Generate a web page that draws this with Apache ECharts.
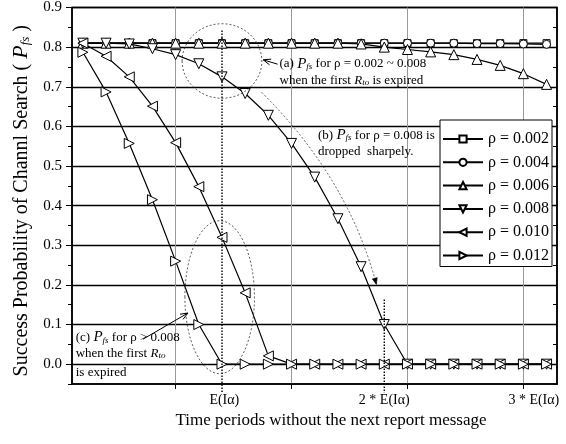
<!DOCTYPE html>
<html>
<head>
<meta charset="utf-8">
<script src="https://cdn.jsdelivr.net/npm/echarts@6/dist/echarts.min.js"></script>
<style>
  html, body { margin: 0; padding: 0; background: #fff; }
  #chart { width: 566px; height: 444px; }
</style>
</head>
<body>
<div id="chart"></div>
<script>
// Time steps (index of period) and success probability per arrival rate
const steps = [0, 1, 2, 3, 4, 5, 6, 7, 8, 9, 10, 11, 12, 13, 14, 15, 16, 17, 18, 19, 20];
const rho002 = [0.81, 0.81, 0.81, 0.81, 0.81, 0.81, 0.81, 0.81, 0.81, 0.81, 0.81, 0.81, 0.81, 0.81, 0.81, 0.81, 0.81, 0.81, 0.81, 0.81, 0.81];
const rho004 = [0.81, 0.81, 0.81, 0.81, 0.81, 0.81, 0.81, 0.81, 0.81, 0.81, 0.81, 0.81, 0.81, 0.81, 0.81, 0.81, 0.81, 0.809, 0.809, 0.808, 0.807];
const rho006 = [0.81, 0.81, 0.81, 0.81, 0.81, 0.81, 0.81, 0.81, 0.81, 0.81, 0.81, 0.81, 0.808, 0.80, 0.794, 0.788, 0.781, 0.769, 0.754, 0.733, 0.706];
const rho008 = [0.81, 0.81, 0.808, 0.796, 0.781, 0.758, 0.725, 0.683, 0.628, 0.557, 0.472, 0.367, 0.246, 0.10, 0, 0, 0, 0, 0, 0, 0];
const rho010 = [0.81, 0.777, 0.725, 0.651, 0.559, 0.448, 0.32, 0.18, 0.021, 0, 0, 0, 0, 0, 0, 0, 0, 0, 0, 0, 0];
const rho012 = [0.787, 0.687, 0.557, 0.415, 0.26, 0.10, 0, 0, 0, 0, 0, 0, 0, 0, 0, 0, 0, 0, 0, 0, 0];

const seriesNames = ['ρ = 0.002', 'ρ = 0.004', 'ρ = 0.006', 'ρ = 0.008', 'ρ = 0.010', 'ρ = 0.012'];

// Axis ticks and labels
const yTickValues = [0, 0.1, 0.2, 0.3, 0.4, 0.5, 0.6, 0.7, 0.8, 0.9];
const yMinorValues = [-0.05, 0.05, 0.15, 0.25, 0.35, 0.45, 0.55, 0.65, 0.75, 0.85];
const xTickValues = [4, 9, 14, 19];
const xLabelValues = [6.1, 13, 19.45];
const xLabelTexts = ['E(Iα)', '2 * E(Iα)', '3 * E(Iα)'];

const FONT = 'Liberation Serif';

function lineSeries(name, values, symbol, rotate, size) {
  return {
    name: name,
    type: 'line',
    data: steps.map((k, i) => [k, values[i]]),
    symbol: symbol,
    symbolRotate: rotate,
    symbolSize: size,
    showSymbol: true,
    lineStyle: { color: '#000', width: 1.2 },
    itemStyle: { color: '#fff', borderColor: '#000', borderWidth: 1 },
    emphasis: { disabled: true },
    z: 3
  };
}

// Annotation layer: dotted markers, ellipses, arrows and notes, placed in data space
function renderNotes(params, api) {
  const pt = (x, y) => api.coord([x, y]);
  const ext = (dx, dy) => api.size([dx, dy]);
  const dotted = { stroke: '#000', lineWidth: 1.4, lineDash: [1.5, 1.5], fill: 'none' };
  const fine = { stroke: '#333', lineWidth: 0.8, lineDash: [2, 2], fill: 'none' };
  const solid = { stroke: '#000', lineWidth: 1, fill: 'none' };
  const children = [];

  // vertical dotted markers at E(Iα) and 2*E(Iα)
  [[6, 0.842, -0.07], [13, 0.163, -0.072]].forEach(function (d) {
    const a = pt(d[0], d[1]), b = pt(d[0], d[2]);
    children.push({ type: 'line', shape: { x1: a[0], y1: a[1], x2: b[0], y2: b[1] }, style: dotted });
  });

  // dotted ellipses
  [[6, 0.765, 1.72, 0.094], [5.9, 0.169, 1.5, 0.193]].forEach(function (d) {
    const c = pt(d[0], d[1]), r = ext(d[2], d[3]);
    children.push({ type: 'ellipse', shape: { cx: c[0], cy: c[1], rx: r[0], ry: r[1] }, style: fine });
  });

  function head(tip, from, len, filled) {
    const ang = Math.atan2(tip[1] - from[1], tip[0] - from[0]);
    const spread = 0.38;
    const p1 = [tip[0] - len * Math.cos(ang - spread), tip[1] - len * Math.sin(ang - spread)];
    const p2 = [tip[0] - len * Math.cos(ang + spread), tip[1] - len * Math.sin(ang + spread)];
    if (filled) {
      return { type: 'polygon', shape: { points: [tip, p1, p2] }, style: { fill: '#000', stroke: '#000', lineWidth: 0.5 } };
    }
    return { type: 'polyline', shape: { points: [p1, tip, p2] }, style: solid };
  }

  function openArrow(from, to) {
    const a = pt(from[0], from[1]), b = pt(to[0], to[1]);
    children.push({ type: 'line', shape: { x1: a[0], y1: a[1], x2: b[0], y2: b[1] }, style: solid });
    children.push(head(b, a, 8, false));
  }
  openArrow([8.4, 0.757], [7.78, 0.768]);
  openArrow([2.59, 0.063], [4.53, 0.129]);

  // curved dotted arrow for the sharp drop of ρ = 0.008
  const c0 = pt(7.71, 0.686), c1 = pt(11.46, 0.468), c2 = pt(12.66, 0.201);
  children.push({ type: 'bezierCurve', shape: { x1: c0[0], y1: c0[1], cpx1: c1[0], cpy1: c1[1], x2: c2[0], y2: c2[1] }, style: fine });
  children.push(head(c2, c1, 7, true));

  const rich = {
    p: { fontFamily: FONT, fontStyle: 'italic', fontSize: 15, fill: '#000' },
    r: { fontFamily: FONT, fontStyle: 'italic', fontSize: 13, fill: '#000' },
    s: { fontFamily: FONT, fontStyle: 'italic', fontSize: 9, fill: '#000', verticalAlign: 'bottom' }
  };
  function note(x, y, text) {
    const p = pt(x, y);
    children.push({
      type: 'text', x: p[0], y: p[1],
      style: { text: text, fontFamily: FONT, fontSize: 13, fill: '#000', align: 'left', verticalAlign: 'middle', rich: rich }
    });
  }
  note(8.48, 0.758, '(a) {p|P}{s|fs} for ρ = 0.002 ~ 0.008');
  note(8.48, 0.716, 'when the first {r|R}{s|to} is expired');
  note(10.14, 0.578, '(b) {p|P}{s|fs} for ρ = 0.008 is');
  note(10.14, 0.536, 'dropped  sharpely.');
  note(-0.31, 0.0676, '(c) {p|P}{s|fs} for ρ > 0.008');
  note(-0.31, 0.0256, 'when the first {r|R}{s|to}');
  note(-0.31, -0.02, 'is expired');

  return { type: 'group', children: children };
}

const chart = echarts.init(document.getElementById('chart'), null, { renderer: 'canvas' });

chart.setOption({
  animation: false,
  backgroundColor: '#fff',
  textStyle: { fontFamily: FONT, color: '#000' },
  grid: {
    left: 72, right: 9, top: 6, bottom: 60,
    show: true, borderColor: '#000', borderWidth: 1.5, backgroundColor: 'transparent'
  },
  legend: {
    data: seriesNames,
    orient: 'vertical',
    left: 440, top: 120,
    itemWidth: 40, itemHeight: 9, itemGap: 7.3,
    padding: [11, 3, 3, 2],
    backgroundColor: '#fff', borderColor: '#000', borderWidth: 1,
    selectedMode: false,
    textStyle: { fontFamily: FONT, fontSize: 16, color: '#000', lineHeight: 14 }
  },
  xAxis: {
    type: 'value', min: -0.47, max: 20.45,
    name: 'Time periods without the next report message',
    nameLocation: 'middle', nameGap: 24,
    nameTextStyle: { fontFamily: FONT, fontSize: 17, color: '#000', padding: [0, 0, 0, 33] },
    axisLine: { show: true, onZero: false, lineStyle: { color: '#000', width: 1.5 } },
    axisTick: { show: true, customValues: xTickValues, length: 5, lineStyle: { color: '#000', width: 1 } },
    axisLabel: {
      customValues: xLabelValues, fontFamily: FONT, fontSize: 14, color: '#000', margin: 9,
      formatter: function (v) {
        let best = 0;
        xLabelValues.forEach(function (x, i) { if (Math.abs(x - v) < Math.abs(xLabelValues[best] - v)) best = i; });
        return xLabelTexts[best];
      }
    },
    splitLine: { show: true, lineStyle: { color: '#999', width: 1 } }
  },
  yAxis: [
    {
      type: 'value', min: -0.05, max: 0.9, position: 'left',
      name: 'Success Probability of Channl Search ( {p|P}{s|fs} )',
      nameLocation: 'middle', nameGap: 37, nameRotate: 90,
      nameTextStyle: {
        fontFamily: FONT, fontSize: 20, color: '#000', padding: [0, 10, 0, 0],
        rich: {
          p: { fontFamily: FONT, fontStyle: 'italic', fontSize: 22, color: '#000' },
          s: { fontFamily: FONT, fontStyle: 'italic', fontSize: 13, color: '#000', verticalAlign: 'bottom' }
        }
      },
      axisLine: { show: true, onZero: false, lineStyle: { color: '#000', width: 1.5 } },
      axisTick: { show: true, customValues: yTickValues, length: 6, lineStyle: { color: '#000', width: 1 } },
      axisLabel: {
        customValues: yTickValues, fontFamily: FONT, fontSize: 15, color: '#000', margin: 10,
        formatter: function (v) { return v.toFixed(1); }
      },
      splitLine: { show: true, lineStyle: { color: '#000', width: 1.3 } }
    },
    {
      type: 'value', min: -0.05, max: 0.9, position: 'left',
      axisLine: { show: false, onZero: false },
      axisTick: { show: true, customValues: yMinorValues, length: 4, lineStyle: { color: '#000', width: 1 } },
      axisLabel: { show: false },
      splitLine: { show: false }
    },
    {
      type: 'value', min: -0.05, max: 0.9, position: 'right',
      axisLine: { show: true, onZero: false, lineStyle: { color: '#000', width: 1.5 } },
      axisTick: { show: true, inside: true, customValues: yMinorValues, length: 4, lineStyle: { color: '#000', width: 1 } },
      axisLabel: { show: false },
      splitLine: { show: false }
    }
  ],
  series: [
    lineSeries(seriesNames[0], rho002, 'rect', 0, 7),
    lineSeries(seriesNames[1], rho004, 'circle', 0, 8),
    lineSeries(seriesNames[2], rho006, 'triangle', 0, 10),
    lineSeries(seriesNames[3], rho008, 'triangle', 180, 10),
    lineSeries(seriesNames[4], rho010, 'triangle', 90, 10),
    lineSeries(seriesNames[5], rho012, 'triangle', -90, 10),
    {
      type: 'custom',
      name: 'notes',
      coordinateSystem: 'cartesian2d',
      data: [[0, 0]],
      renderItem: renderNotes,
      silent: true,
      clip: false,
      z: 4
    }
  ]
});
</script>
</body>
</html>
